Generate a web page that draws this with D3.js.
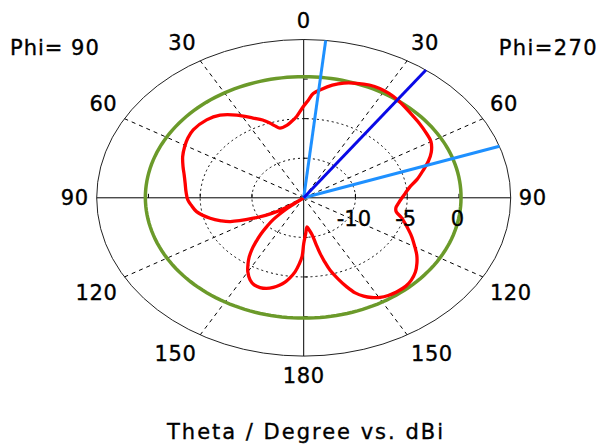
<!DOCTYPE html>
<html><head><meta charset="utf-8">
<script src="https://cdn.jsdelivr.net/npm/d3@7"></script>
<style>html,body{margin:0;padding:0;background:#fff;} svg{display:block;}</style>
</head><body>
<svg id="chart" width="603" height="445"></svg>
<script>
// ---------------- data ----------------
// Red cut: right half = Phi=270, left half = Phi=90 (theta in degrees, gain in dBi)
const thetaPhi270 = [0,2,4,7,11,15,19.5,24,28,32,36,40,45,50,55,60,65,69,73,78,82,86,90,94,98,101,105,110,115,120,123.5,127,131,135,138.5,143,146.5,149.6,152.5,155,157.5,159.7,162,164.4,166,167.3,168.5,170,172.5,175,177.5,180];
const dbPhi270 = [-3.4,-2.7,-1.8,-1.2,-0.5,0.0,0.35,0.6,0.65,0.55,0.35,0.1,-0.2,-0.4,-0.6,-0.8,-1.4,-2.1,-2.9,-3.8,-4.6,-5.1,-5.5,-5.8,-6.0,-5.9,-5.2,-4.4,-3.5,-2.6,-1.9,-1.3,-0.7,-0.3,-0.1,-0.1,-0.2,-0.4,-0.8,-1.3,-2.0,-3.0,-4.2,-5.5,-6.7,-7.8,-9.0,-10.2,-10.9,-11.3,-10.5,-9.2];
const thetaPhi90 = [0,3.8,7,10.1,14.6,17,19.1,22,25.9,31.8,37.7,43.6,51.2,56,60.6,66,71.4,76,80.9,86,91.4,95,99.6,106,110,113,118,121,124,127,128.5,130,133,135.6,138,140.7,142.7,145,147.1,150,153.5,156.5,159.6,162.5,165.5,168,170.4,172.5,174.9,177,178.8,180];
const dbPhi90 = [-3.5,-4.7,-5.3,-5.7,-5.9,-5.5,-5.0,-4.4,-3.8,-2.7,-1.8,-1.4,-1.3,-1.5,-1.8,-2.2,-2.7,-3.1,-3.4,-3.6,-3.8,-4.1,-4.5,-5.6,-6.5,-7.3,-9.5,-10.7,-11.9,-13.5,-16,-13,-11,-9.9,-8.8,-7.6,-6.7,-5.8,-5.1,-4.2,-3.4,-3.0,-2.9,-3.0,-3.3,-3.7,-4.2,-4.8,-5.6,-6.6,-7.6,-9.2];
// Green reference cut
const greenTheta = [0,30,60,90,120,150,180];
const greenPhi270 = [0.3,0.3,0.25,0.2,0.2,0.2,0.2];
const greenPhi90 = [0.3,0.3,0.3,0.3,0.25,0.2,0.2];
// Direction markers (theta, on Phi=270 side)
const mainLobeTheta = [36.2];
const beamEdgeTheta = [6.1, 71];
// Grid / tick labels
const radialTicks = [-10, -5, 0];
const radialTickLabels = ["-10", "-5", "0"];
const gridRings = [-10, -5];
const angleTicks = [0, 30, 60, 90, 120, 150, 180];
const angleTickLabels = ["0", "30", "60", "90", "120", "150", "180"];
const spokeAngles = [30, 60, 120, 150];
const rMin = -15, rMax = 5;
const phiLeftLabel = "Phi= 90", phiRightLabel = "Phi=270";
const titleText = "Theta / Degree vs. dBi";

// ---------------- layout ----------------
const cx = 303.7, cy = 197.8, RX = 207, RY = 158.3;
const svg = d3.select("#chart");
const rScale = d3.scaleLinear().domain([rMin, rMax]).range([0, 1]).clamp(true);
const rad = d => d * Math.PI / 180;
function pt(angle, db) {
  const r = rScale(db), a = rad(angle);
  return [cx + RX * r * Math.sin(a), cy - RY * r * Math.cos(a)];
}
const font = "'DejaVu Sans', Verdana, sans-serif";

// grid rings (dotted)
svg.append("g").selectAll("ellipse").data(gridRings).join("ellipse")
  .attr("cx", cx).attr("cy", cy)
  .attr("rx", d => RX * rScale(d)).attr("ry", d => RY * rScale(d))
  .attr("fill", "none").attr("stroke", "#000").attr("stroke-width", 1)
  .attr("stroke-dasharray", "2,3");
// spokes (dashed)
const spokes = spokeAngles.flatMap(a => [a, -a]);
svg.append("g").selectAll("line").data(spokes).join("line")
  .attr("x1", cx).attr("y1", cy)
  .attr("x2", d => pt(d, rMax)[0]).attr("y2", d => pt(d, rMax)[1])
  .attr("stroke", "#000").attr("stroke-width", 1).attr("stroke-dasharray", "4,4");
// outer ellipse
svg.append("ellipse").attr("cx", cx).attr("cy", cy).attr("rx", RX).attr("ry", RY)
  .attr("fill", "none").attr("stroke", "#222").attr("stroke-width", 1);
// axes
svg.append("line").attr("x1", pt(-90, rMax)[0]).attr("y1", cy).attr("x2", pt(90, rMax)[0]).attr("y2", cy)
  .attr("stroke", "#000").attr("stroke-width", 1);
svg.append("line").attr("x1", cx).attr("y1", pt(0, rMax)[1]).attr("x2", cx).attr("y2", pt(180, rMax)[1])
  .attr("stroke", "#000").attr("stroke-width", 1);
// axis ticks
const tickG = svg.append("g").attr("stroke", "#000").attr("stroke-width", 1);
radialTicks.forEach(v => {
  [90, -90].forEach(a => {
    const p = pt(a, v);
    tickG.append("line").attr("x1", p[0]).attr("x2", p[0]).attr("y1", cy - 4).attr("y2", cy);
  });
  [0, 180].forEach(a => {
    const p = pt(a, v);
    tickG.append("line").attr("x1", cx).attr("x2", cx + 4).attr("y1", p[1]).attr("y2", p[1]);
  });
});

// green curve (interpolated in polar space)
function densify(thetas, vals, sign) {
  const out = [];
  for (let i = 0; i < thetas.length - 1; i++) {
    const t0 = thetas[i], t1 = thetas[i + 1];
    const steps = Math.max(1, Math.ceil((t1 - t0) / 2));
    for (let k = 0; k < steps; k++) {
      const f = k / steps;
      out.push(pt(sign * (t0 + f * (t1 - t0)), vals[i] + f * (vals[i + 1] - vals[i])));
    }
  }
  out.push(pt(sign * thetas[thetas.length - 1], vals[vals.length - 1]));
  return out;
}
const gRight = densify(greenTheta, greenPhi270, 1);
const gLeft = densify(greenTheta, greenPhi90, -1).reverse();
svg.append("path").attr("d", d3.line()(gRight.concat(gLeft)) + "Z")
  .attr("fill", "none").attr("stroke", "#6b9a2a").attr("stroke-width", 3.5);

// red curve
const redPts = thetaPhi270.map((t, i) => pt(t, dbPhi270[i]));
for (let i = thetaPhi90.length - 2; i >= 1; i--) redPts.push(pt(-thetaPhi90[i], dbPhi90[i]));
svg.append("path").attr("d", d3.line().curve(d3.curveCatmullRomClosed.alpha(0.5))(redPts))
  .attr("fill", "none").attr("stroke", "#ff0000").attr("stroke-width", 3.3).attr("stroke-linejoin", "round");

// direction markers
svg.append("g").selectAll("line").data(beamEdgeTheta).join("line")
  .attr("x1", cx).attr("y1", cy)
  .attr("x2", d => pt(d, rMax)[0]).attr("y2", d => pt(d, rMax)[1])
  .attr("stroke", "#1e90ff").attr("stroke-width", 3);
svg.append("g").selectAll("line").data(mainLobeTheta).join("line")
  .attr("x1", cx).attr("y1", cy)
  .attr("x2", d => pt(d, rMax)[0]).attr("y2", d => pt(d, rMax)[1])
  .attr("stroke", "#0a0ae6").attr("stroke-width", 3);

// text helper
function styleText(sel) {
  return sel.attr("font-family", font).attr("font-size", fs).attr("fill", "#000")
    .attr("stroke", "#000").attr("stroke-width", 0.35);
}
const fs = 21;
// angle labels
const angLab = [];
angleTicks.forEach((a, i) => {
  angLab.push({a: a, t: angleTickLabels[i]});
  if (a !== 0 && a !== 180) angLab.push({a: -a, t: angleTickLabels[i]});
});
styleText(svg.append("g").selectAll("text").data(angLab).join("text"))
  .attr("text-anchor", "middle").attr("letter-spacing", 0.6)
  .attr("x", d => {
    const s = Math.sin(rad(d.a)); const p = pt(d.a, rMax);
    const extra = (d.t.length - 2) * 6.8;
    return p[0] + Math.sign(s) * (22 * Math.pow(Math.abs(s), 0.3) + (Math.abs(s) > 0.01 ? extra : 0));
  })
  .attr("y", d => {
    const c = Math.cos(rad(d.a)); const p = pt(d.a, rMax);
    const off = Math.abs(c) < 1e-6 ? 0 : -19 * Math.sign(c) * Math.pow(Math.abs(c), 0.3);
    return p[1] + off + 0.36 * fs;
  })
  .text(d => d.t);

// radial labels
styleText(svg.append("g").selectAll("text").data(radialTicks).join("text"))
  .attr("text-anchor", "middle")
  .attr("x", d => pt(90, d)[0] - 1.5).attr("y", cy + 28.5)
  .text((d, i) => radialTickLabels[i]);

// phi labels
styleText(svg.append("text")).attr("x", 10).attr("y", 55)
  .attr("letter-spacing", 1).text(phiLeftLabel);
styleText(svg.append("text")).attr("x", 598).attr("y", 55)
  .attr("letter-spacing", 1.4).attr("text-anchor", "end").text(phiRightLabel);
// title
styleText(svg.append("text")).attr("x", 306).attr("y", 439)
  .attr("letter-spacing", 2.0).attr("text-anchor", "middle").text(titleText);
</script>
</body></html>
